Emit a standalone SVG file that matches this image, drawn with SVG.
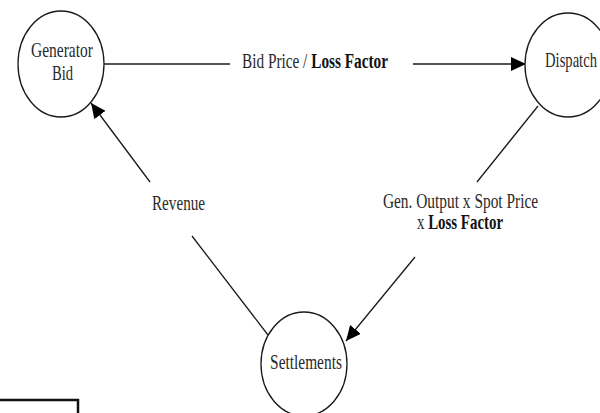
<svg xmlns="http://www.w3.org/2000/svg" width="600" height="413" viewBox="0 0 600 413">
<style>
.node{fill:#fff;stroke:#1a1a1a;stroke-width:1.3}
.lbl{font-family:"Liberation Serif","Times New Roman",serif;font-size:21px;fill:#2a2a2a;text-anchor:middle}
.b{font-weight:bold;fill:#111}
.conn{stroke:#1a1a1a;stroke-width:1.3;fill:none}
</style>
<defs>
<marker id="arr" markerUnits="userSpaceOnUse" markerWidth="16" markerHeight="14" refX="15" refY="7" orient="auto">
<path d="M0,0 L15,7 L0,14 Z" fill="#000"/>
</marker>
</defs>
<rect width="600" height="413" fill="#fff"/>
<g id="connectors">
<line class="conn" x1="104" y1="64" x2="230" y2="64"/>
<line class="conn" x1="413" y1="64" x2="526" y2="64" marker-end="url(#arr)"/>
<line class="conn" x1="538" y1="106" x2="477" y2="182"/>
<line class="conn" x1="415" y1="257" x2="346" y2="341" marker-end="url(#arr)"/>
<line class="conn" x1="268" y1="335" x2="192" y2="236"/>
<line class="conn" x1="150" y1="182" x2="91" y2="103" marker-end="url(#arr)"/>
<text class="lbl" transform="translate(315,68) scale(0.728,1)">Bid Price / <tspan class="b">Loss Factor</tspan></text>
<text class="lbl" transform="translate(178.5,210) scale(0.724,1)">Revenue</text>
<text class="lbl" transform="translate(460.5,208) scale(0.733,1)">Gen. Output x Spot Price</text>
<text class="lbl" transform="translate(460,229) scale(0.71,1)">x <tspan class="b">Loss Factor</tspan></text>
</g>
<g id="generator-bid">
<ellipse class="node" cx="61" cy="64" rx="43" ry="53"/>
<text class="lbl" transform="translate(62,57) scale(0.738,1)">Generator</text>
<text class="lbl" transform="translate(62.5,80) scale(0.695,1)">Bid</text>
</g>
<g id="dispatch">
<ellipse class="node" cx="568" cy="65" rx="43" ry="52"/>
<text class="lbl" transform="translate(571,67) scale(0.695,1)">Dispatch</text>
</g>
<g id="settlements">
<ellipse class="node" cx="304" cy="364" rx="43" ry="52"/>
<text class="lbl" transform="translate(306,369) scale(0.733,1)">Settlements</text>
</g>
<rect x="-5" y="400" width="83" height="25" fill="none" stroke="#111" stroke-width="2.5"/>
</svg>
